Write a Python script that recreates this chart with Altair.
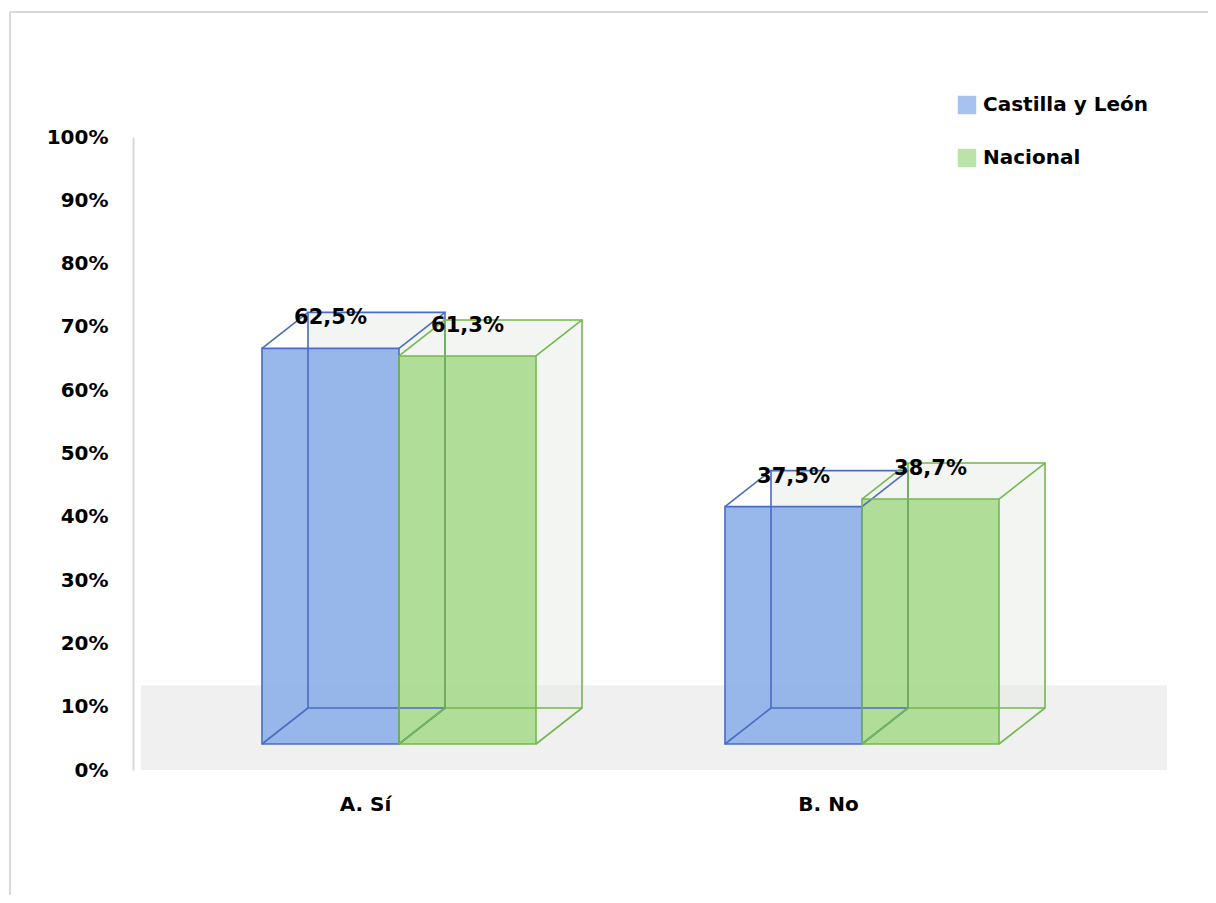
import json
import altair as alt
import pandas as pd

# ---- data ----
categories = ["A. Sí", "B. No"]
series = ["Castilla y León", "Nacional"]
castilla = [62.5, 37.5]
nacional = [61.3, 38.7]
y_ticks = [0, 10, 20, 30, 40, 50, 60, 70, 80, 90, 100]

rows = []
for i, c in enumerate(categories):
    rows.append({"cat": c, "serie": series[0], "valor": castilla[i]})
    rows.append({"cat": c, "serie": series[1], "valor": nacional[i]})
df = pd.DataFrame(rows)

# ---- styling ----
FONT = "DejaVu Sans"
BW = 0.2959          # bar width in category units
DX, DY_FRONT, DY_BACK = 46, -26, -62
fill_scale = alt.Scale(domain=series, range=["#8aaee9", "#a6d98a"])
stroke_scale = alt.Scale(domain=series, range=["#4a6cc5", "#74b84f"])
xscale = alt.Scale(domain=[-0.5745, 1.6544], nice=False, zero=False)
yscale = alt.Scale(domain=[0, 100], nice=False)

cats_js = json.dumps(categories, ensure_ascii=False)
ser_js = json.dumps(series, ensure_ascii=False)

xaxis = alt.Axis(values=[0, 1], labelExpr=f"{cats_js}[datum.value]", title=None,
                 domain=False, ticks=False, grid=False, labelOffset=-34,
                 labelPadding=24, labelFont=FONT, labelFontSize=20,
                 labelFontWeight="bold", labelColor="#000000")
yaxis = alt.Axis(values=y_ticks, labelExpr="datum.value + '%'", title=None,
                 ticks=False, grid=False, domainColor="#d9d9d9", domainWidth=2,
                 labelPadding=25, labelFont=FONT, labelFontSize=20,
                 labelFontWeight="bold", labelColor="#000000")

base = alt.Chart(df).transform_calculate(
    ci=f"indexof({cats_js}, datum.cat)",
    si=f"indexof({ser_js}, datum.serie)",
).transform_calculate(
    x0=f"datum.ci + (datum.si - 1) * {BW}",
    x1=f"datum.ci + datum.si * {BW}",
    xm=f"datum.ci + (datum.si - 0.5) * {BW}",
    zero="0",
    label="replace(format(datum.valor, '.1f'), '.', ',') + '%'",
)

X0 = alt.X("x0:Q", scale=xscale, axis=xaxis)
YV = alt.Y("valor:Q", scale=yscale, axis=yaxis)
STROKE = alt.Stroke("serie:N", scale=stroke_scale, legend=None)

# outer chart frame (only top and left edges are visible in the reference)
frame_top = base.mark_rule(color="#d9d9d9", strokeWidth=2).encode(
    x=alt.value(-123), x2=alt.value(1300), y=alt.value(-125)
)
frame_left = base.mark_rule(color="#d9d9d9", strokeWidth=2).encode(
    x=alt.value(-123), y=alt.value(-125), y2=alt.value(1000)
)

floor = base.mark_rect(color="#f0f0f0").encode(
    x=alt.value(8), x2=alt.value(1034),
    y=alt.Y(datum=0, scale=yscale, axis=yaxis), y2=alt.datum(13.3),
)

back_fill = base.mark_rect(xOffset=DX, x2Offset=DX, yOffset=DY_BACK, y2Offset=DY_BACK,
                           fill="#e4e8e2", fillOpacity=0.45, strokeWidth=0).encode(
    x=X0, x2="x1:Q", y=YV, y2="zero:Q"
)

front_fill = base.mark_rect(yOffset=DY_FRONT, y2Offset=DY_FRONT, fillOpacity=0.88,
                            strokeWidth=0).encode(
    x=X0, x2="x1:Q", y=YV, y2="zero:Q",
    fill=alt.Fill("serie:N", scale=fill_scale, sort=series,
                  legend=alt.Legend(title=None, orient="none", legendX=824, legendY=-42,
                                    symbolType="square", symbolSize=340,
                                    symbolStrokeWidth=0, symbolOpacity=0.75,
                                    labelFont=FONT, labelFontSize=20,
                                    labelFontWeight="bold", labelColor="#000000",
                                    labelLimit=0, rowPadding=33, labelOffset=6)),
)

back_edge = base.mark_rect(xOffset=DX, x2Offset=DX, yOffset=DY_BACK, y2Offset=DY_BACK,
                           fillOpacity=0, strokeWidth=1.6).encode(
    x=X0, x2="x1:Q", y=YV, y2="zero:Q", stroke=STROKE
)

def depth(xf, yf):
    return base.mark_rule(yOffset=DY_FRONT, x2Offset=DX, y2Offset=DY_BACK,
                          strokeWidth=1.6).encode(
        x=alt.X(xf, scale=xscale, axis=xaxis), x2=xf,
        y=alt.Y(yf, scale=yscale, axis=yaxis), y2=yf, stroke=STROKE
    )

edges = [depth("x0:Q", "valor:Q"), depth("x1:Q", "valor:Q"),
         depth("x1:Q", "zero:Q"), depth("x0:Q", "zero:Q")]

front_edge = base.mark_rect(yOffset=DY_FRONT, y2Offset=DY_FRONT, fillOpacity=0,
                            strokeWidth=1.6).encode(
    x=X0, x2="x1:Q", y=YV, y2="zero:Q", stroke=STROKE
)

labels = base.mark_text(font=FONT, fontSize=21, fontWeight="bold", color="#000000",
                        baseline="middle", align="center",
                        yOffset=DY_FRONT - 30).encode(
    x=alt.X("xm:Q", scale=xscale, axis=xaxis),
    y=YV,
    text="label:N",
)

chart = alt.layer(frame_top, frame_left, floor, back_fill, front_fill, back_edge, *edges,
                  front_edge, labels).properties(
    width=1032, height=633,
    autosize=alt.AutoSizeParams(type="none"),
    padding={"left": 125, "top": 129, "right": 43, "bottom": 125},
).configure_view(stroke=None)

chart.save("out.html", embed_options={"renderer": "svg", "actions": False})
